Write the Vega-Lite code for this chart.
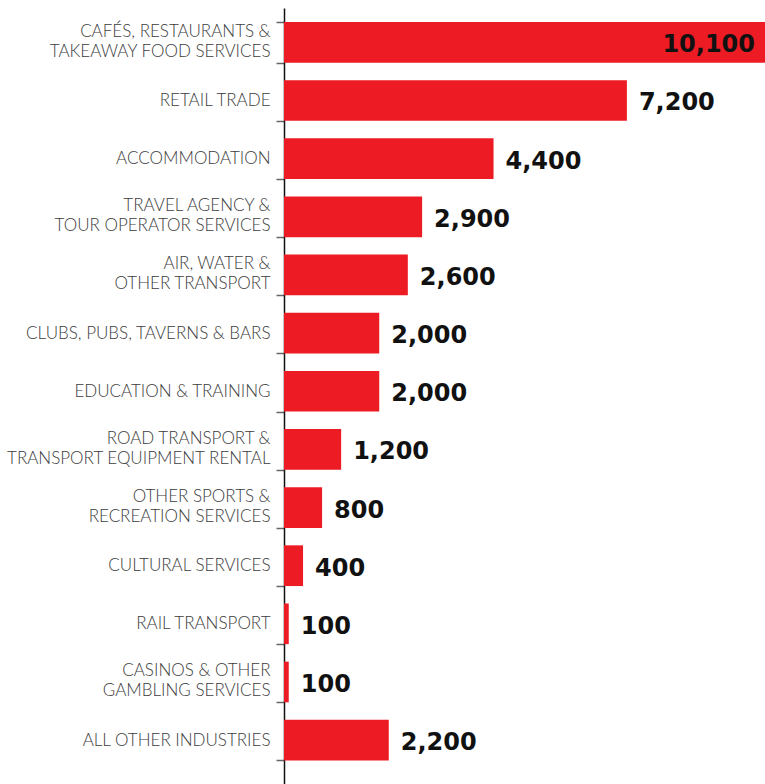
{
  "$schema": "https://vega.github.io/schema/vega-lite/v6.json",
  "width": 481,
  "height": 776,
  "autosize": {"type": "none"},
  "padding": {"left": 284, "top": 8, "right": 0, "bottom": 0},
  "background": "white",
  "config": {"view": {"stroke": null}},
  "data": {
    "values": [
      {"industry": "CAFÉS, RESTAURANTS &|TAKEAWAY FOOD SERVICES", "jobs": 10100},
      {"industry": "RETAIL TRADE", "jobs": 7200},
      {"industry": "ACCOMMODATION", "jobs": 4400},
      {"industry": "TRAVEL AGENCY &|TOUR OPERATOR SERVICES", "jobs": 2900},
      {"industry": "AIR, WATER &|OTHER TRANSPORT", "jobs": 2600},
      {"industry": "CLUBS, PUBS, TAVERNS & BARS", "jobs": 2000},
      {"industry": "EDUCATION & TRAINING", "jobs": 2000},
      {"industry": "ROAD TRANSPORT &|TRANSPORT EQUIPMENT RENTAL", "jobs": 1200},
      {"industry": "OTHER SPORTS &|RECREATION SERVICES", "jobs": 800},
      {"industry": "CULTURAL SERVICES", "jobs": 400},
      {"industry": "RAIL TRANSPORT", "jobs": 100},
      {"industry": "CASINOS & OTHER|GAMBLING SERVICES", "jobs": 100},
      {"industry": "ALL OTHER INDUSTRIES", "jobs": 2200}
    ]
  },
  "encoding": {
    "y": {
      "field": "industry",
      "type": "nominal",
      "sort": null,
      "scale": {"paddingInner": 0.3, "paddingOuter": 0.3225, "align": 0.373},
      "axis": {
        "title": null,
        "labelExpr": "split(datum.label, '|')",
        "labelFont": "Lato",
        "labelFontWeight": 300,
        "labelFontSize": 17,
        "labelColor": "#3c3c3c",
        "labelLineHeight": 20,
        "labelPadding": 6,
        "labelLimit": 300,
        "labelOffset": {"condition": {"test": "indexof(datum.label, '|') >= 0", "value": -11}, "value": 0},
        "tickBand": "extent",
        "tickSize": 8,
        "tickColor": "#666666",
        "tickWidth": 1.5,
        "domainColor": "#111111",
        "domainWidth": 1.5
      }
    },
    "x": {
      "field": "jobs",
      "type": "quantitative",
      "scale": {"domain": [0, 10100], "nice": false},
      "axis": null
    }
  },
  "layer": [
    {"mark": {"type": "bar", "color": "#ED1C24"}},
    {
      "transform": [{"filter": "datum.jobs < 9000"}],
      "mark": {"type": "text", "align": "left", "baseline": "middle", "dx": 12, "dy": 3, "font": "DejaVu Sans", "fontWeight": "bold", "fontSize": 24, "color": "#111111"},
      "encoding": {"text": {"field": "jobs", "type": "quantitative", "format": ","}}
    },
    {
      "transform": [{"filter": "datum.jobs >= 9000"}],
      "mark": {"type": "text", "align": "right", "baseline": "middle", "dx": -10, "dy": 3, "font": "DejaVu Sans", "fontWeight": "bold", "fontSize": 24, "color": "#111111"},
      "encoding": {"text": {"field": "jobs", "type": "quantitative", "format": ","}}
    }
  ]
}
